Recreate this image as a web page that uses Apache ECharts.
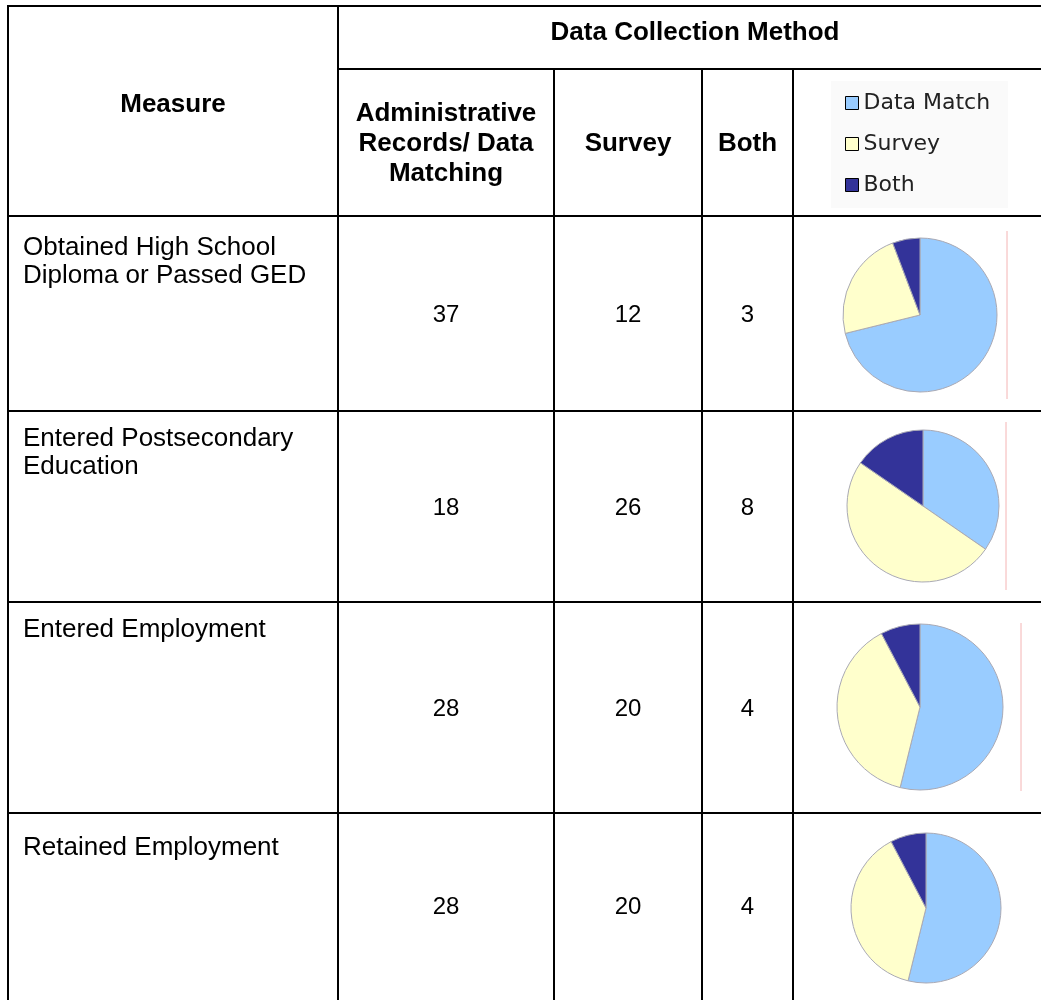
<!DOCTYPE html>
<html>
<head>
<meta charset="utf-8">
<title>Data Collection Method</title>
<script src="https://cdn.jsdelivr.net/npm/echarts@6/dist/echarts.min.js"></script>
<style>
  html, body { margin: 0; padding: 0; background: #fff; }
  #chart { width: 1041px; height: 1000px; }
</style>
</head>
<body>
<div id="chart"></div>
<script>
// table data
const measures = [
  'Obtained High School\nDiploma or Passed GED',
  'Entered Postsecondary\nEducation',
  'Entered Employment',
  'Retained Employment'
];
const adminRecords = [37, 18, 28, 28];
const surveyCounts = [12, 26, 20, 20];
const bothCounts = [3, 8, 4, 4];
const methods = ['Data Match', 'Survey', 'Both'];
const columnHeaders = ['Administrative\nRecords/ Data\nMatching', 'Survey', 'Both'];

// layout of the table (pixels)
const colX = [8, 338, 554, 702, 793, 1041];
const rowY = [216, 411, 602, 813, 998];
const pies = [
  { cx: 920, cy: 315, r: 77, mark: 1007 },
  { cx: 923, cy: 506, r: 76, mark: 1006 },
  { cx: 920, cy: 707, r: 83, mark: 1021 },
  { cx: 926, cy: 908, r: 75, mark: null }
];
const labelOffset = [18, 14, 14, 21];
const colors = ['#99ccff', '#ffffcc', '#333399'];
const font = '"Liberation Sans", Arial, sans-serif';

const chartInstance = echarts.init(document.getElementById('chart'));

const line = (x1, y1, x2, y2) => ({
  type: 'line',
  shape: { x1, y1, x2, y2 },
  style: { stroke: '#000', lineWidth: 2 },
  silent: true
});
const text = (str, x, y, opts) => ({
  type: 'text',
  silent: true,
  style: Object.assign({
    text: str, x, y,
    fill: '#000',
    fontSize: 26,
    fontFamily: font,
    textAlign: 'center',
    textVerticalAlign: 'middle',
    lineHeight: 30
  }, opts || {})
});

const graphics = [];
// grid lines
graphics.push(line(7, 6, 1041, 6));
graphics.push(line(338, 69, 1041, 69));
rowY.slice(0, 4).forEach(y => graphics.push(line(7, y, 1041, y)));
graphics.push(line(colX[0], 5, colX[0], 1000));
graphics.push(line(colX[1], 5, colX[1], 1000));
[2, 3, 4].forEach(i => graphics.push(line(colX[i], 69, colX[i], 1000)));

// header
graphics.push(text('Measure', 173, 105, { fontWeight: 'bold' }));
graphics.push(text('Data Collection Method', 695, 33, { fontWeight: 'bold' }));
columnHeaders.forEach((h, i) => {
  graphics.push(text(h, (colX[i + 1] + colX[i + 2]) / 2, 144, { fontWeight: 'bold' }));
});

// body rows
measures.forEach((m, i) => {
  const mid = (rowY[i] + rowY[i + 1]) / 2 + 2;
  graphics.push(text(m, 23, rowY[i] + labelOffset[i], {
    textAlign: 'left', textVerticalAlign: 'top', lineHeight: 28
  }));
  [adminRecords, surveyCounts, bothCounts].forEach((arr, j) => {
    graphics.push(text(String(arr[i]), (colX[j + 1] + colX[j + 2]) / 2, mid, { fontSize: 24 }));
  });
  // faint edge left over from the pasted pie pictures
  if (pies[i].mark) {
    graphics.push({
      type: 'line', silent: true,
      shape: { x1: pies[i].mark, y1: pies[i].cy - 84, x2: pies[i].mark, y2: pies[i].cy + 84 },
      style: { stroke: '#f4b4b4', lineWidth: 1 }
    });
  }
});

const series = measures.map((m, i) => ({
  name: m,
  type: 'pie',
  center: [pies[i].cx, pies[i].cy],
  radius: [0, pies[i].r],
  startAngle: 90,
  clockwise: true,
  label: { show: false },
  labelLine: { show: false },
  emphasis: { disabled: true },
  itemStyle: { borderColor: '#a9a9b4', borderWidth: 1 },
  data: methods.map((name, j) => ({
    name,
    value: [adminRecords, surveyCounts, bothCounts][j][i]
  }))
}));

const option = {
  animation: false,
  color: colors,
  legend: {
    orient: 'vertical',
    left: 831,
    top: 81,
    padding: [11, 18, 12, 14],
    backgroundColor: '#fafafa',
    data: methods,
    icon: 'rect',
    itemWidth: 13,
    itemHeight: 13,
    itemGap: 19,
    itemStyle: { borderColor: '#000', borderWidth: 1 },
    textStyle: { fontFamily: '"DejaVu Sans", Verdana, sans-serif', fontSize: 22, color: '#222' }
  },
  graphic: graphics,
  series
};

chartInstance.setOption(option);
window.addEventListener('resize', () => chartInstance.resize());
</script>
</body>
</html>
